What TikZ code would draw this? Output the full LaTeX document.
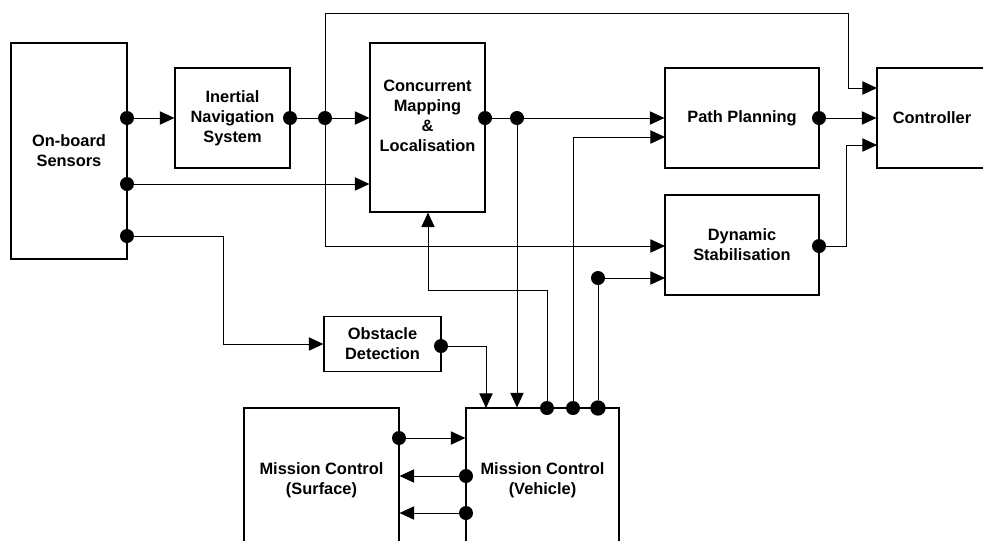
\documentclass[tikz,border=0pt]{standalone}
\usepackage{fontspec}
\setmainfont{Liberation Sans}
\usetikzlibrary{arrows.meta}

\tikzset{
	blk/.style={draw, line width=0.85pt, inner sep=0pt, align=center, font=\bfseries\fontsize{12.3}{15}\selectfont},
	lbl/.style={inner sep=0pt, align=center, font=\bfseries\fontsize{12.3}{15}\selectfont},
	dot/.style={circle, fill=black, inner sep=0pt, minimum size=10.5pt},
	wire/.style={line width=0.75pt},
	arr/.style={line width=0.75pt, -{Triangle[length=11pt,width=10pt]}}
}

\begin{document}
\begin{tikzpicture}[x=0.75pt, y=-0.75pt]
			%%%%% START %%%%%
			\useasboundingbox (0,0) rectangle (983,540);
			
			\node[blk, minimum width=87pt, minimum height=162pt] (obs) at (69,151) {On-board\\Sensors};
			\node[blk, minimum width=86.25pt, minimum height=75pt] (ins) at (232.5,118) {Inertial\\Navigation\\System};
			\node[blk, minimum width=86.25pt, minimum height=126.75pt] (cml) at (427.5,127.5) {};
			\node[lbl] (cmltext) at (427.5,116) {Concurrent\\Mapping\\\&\\Localisation};
			\node[blk, minimum width=115.5pt, minimum height=75pt] (pp) at (742,118) {Path Planning};
			\node[blk, minimum width=82.5pt, minimum height=75pt] (ctl) at (932,118) {Controller};
			\node[blk, minimum width=115.5pt, minimum height=75pt] (ds) at (742,245) {Dynamic\\Stabilisation};
			\node[blk, minimum width=87.75pt, minimum height=41.25pt] (od) at (382.5,344) {Obstacle\\Detection};
			\node[blk, minimum width=116.25pt, minimum height=114pt] (mcs) at (321.5,484) {};
			\node[lbl] (mcstext) at (321.5,480) {Mission Control\\(Surface)};
			\node[blk, minimum width=114.75pt, minimum height=114pt] (mcv) at (542.5,484) {};
			\node[lbl] (mcvtext) at (542.5,480) {Mission Control\\(Vehicle)};
			
			% dots
			\node[dot] (obs1) at (127,118) {};
			\node[dot] (obs2) at (127,184) {};
			\node[dot] (obs3) at (127,236) {};
			\node[dot] (insout) at (290,118) {};
			\node[dot] (jn1) at (325,118) {};
			\node[dot] (cmlout) at (485,118) {};
			\node[dot] (jn2) at (517,118) {};
			\node[dot] (ppout) at (819,118) {};
			\node[dot] (dsout) at (819,246) {};
			\node[dot] (odout) at (441,346) {};
			\node[dot] (jn3) at (598,278) {};
			\node[dot] (mcv1) at (547,408) {};
			\node[dot] (mcv2) at (573,408) {};
			\node[dot, minimum size=11.5pt] (mcv3) at (598,408) {};
			\node[dot] (mcsout) at (399,438) {};
			\node[dot] (mcv4) at (466,476) {};
			\node[dot] (mcv5) at (466,513) {};
			
			% bends
			\coordinate (topbend) at (848,13);
			\coordinate (ctlin1) at (877,88);
			\coordinate (ctlin3) at (877,145);
			\coordinate (dsbend) at (846,145);
			\coordinate (dsin1) at (665,246);
			\coordinate (dsin2) at (665,278);
			\coordinate (ppin2) at (665,137);
			\coordinate (odbend) at (223,344);
			\coordinate (mcvin1) at (486,408);
			\coordinate (cmlbend) at (428,290);
			
			\draw[arr] (obs1) -- (ins);
			\draw[arr] (obs2) -- (cml.west |- obs2);
			\draw[arr] (obs3) -| (odbend) -- (od);
			\draw[wire] (insout) -- (jn1);
			\draw[arr] (jn1) -- (cml.west |- jn1);
			\draw[arr] (jn1) |- (topbend) |- (ctlin1);
			\draw[arr] (jn1) |- (dsin1);
			\draw[wire] (cmlout) -- (jn2);
			\draw[arr] (jn2) -- (pp);
			\draw[arr] (jn2) -- (jn2 |- mcv.north);
			\draw[arr] (ppout) -- (ctl);
			\draw[arr] (dsout) -| (dsbend) -- (ctlin3);
			\draw[arr] (odout) -| (mcvin1);
			\draw[arr] (mcv1) |- (cmlbend) -- (cml.south -| cmlbend);
			\draw[arr] (mcv2) |- (ppin2);
			\draw[wire] (mcv3) -- (jn3);
			\draw[arr] (jn3) -- (dsin2);
			\draw[arr] (mcsout) -- (mcv.west |- mcsout);
			\draw[arr] (mcv4) -- (mcs.east |- mcv4);
			\draw[arr] (mcv5) -- (mcs.east |- mcv5);
			
			%%%%% END %%%%%
\end{tikzpicture}
\end{document}
